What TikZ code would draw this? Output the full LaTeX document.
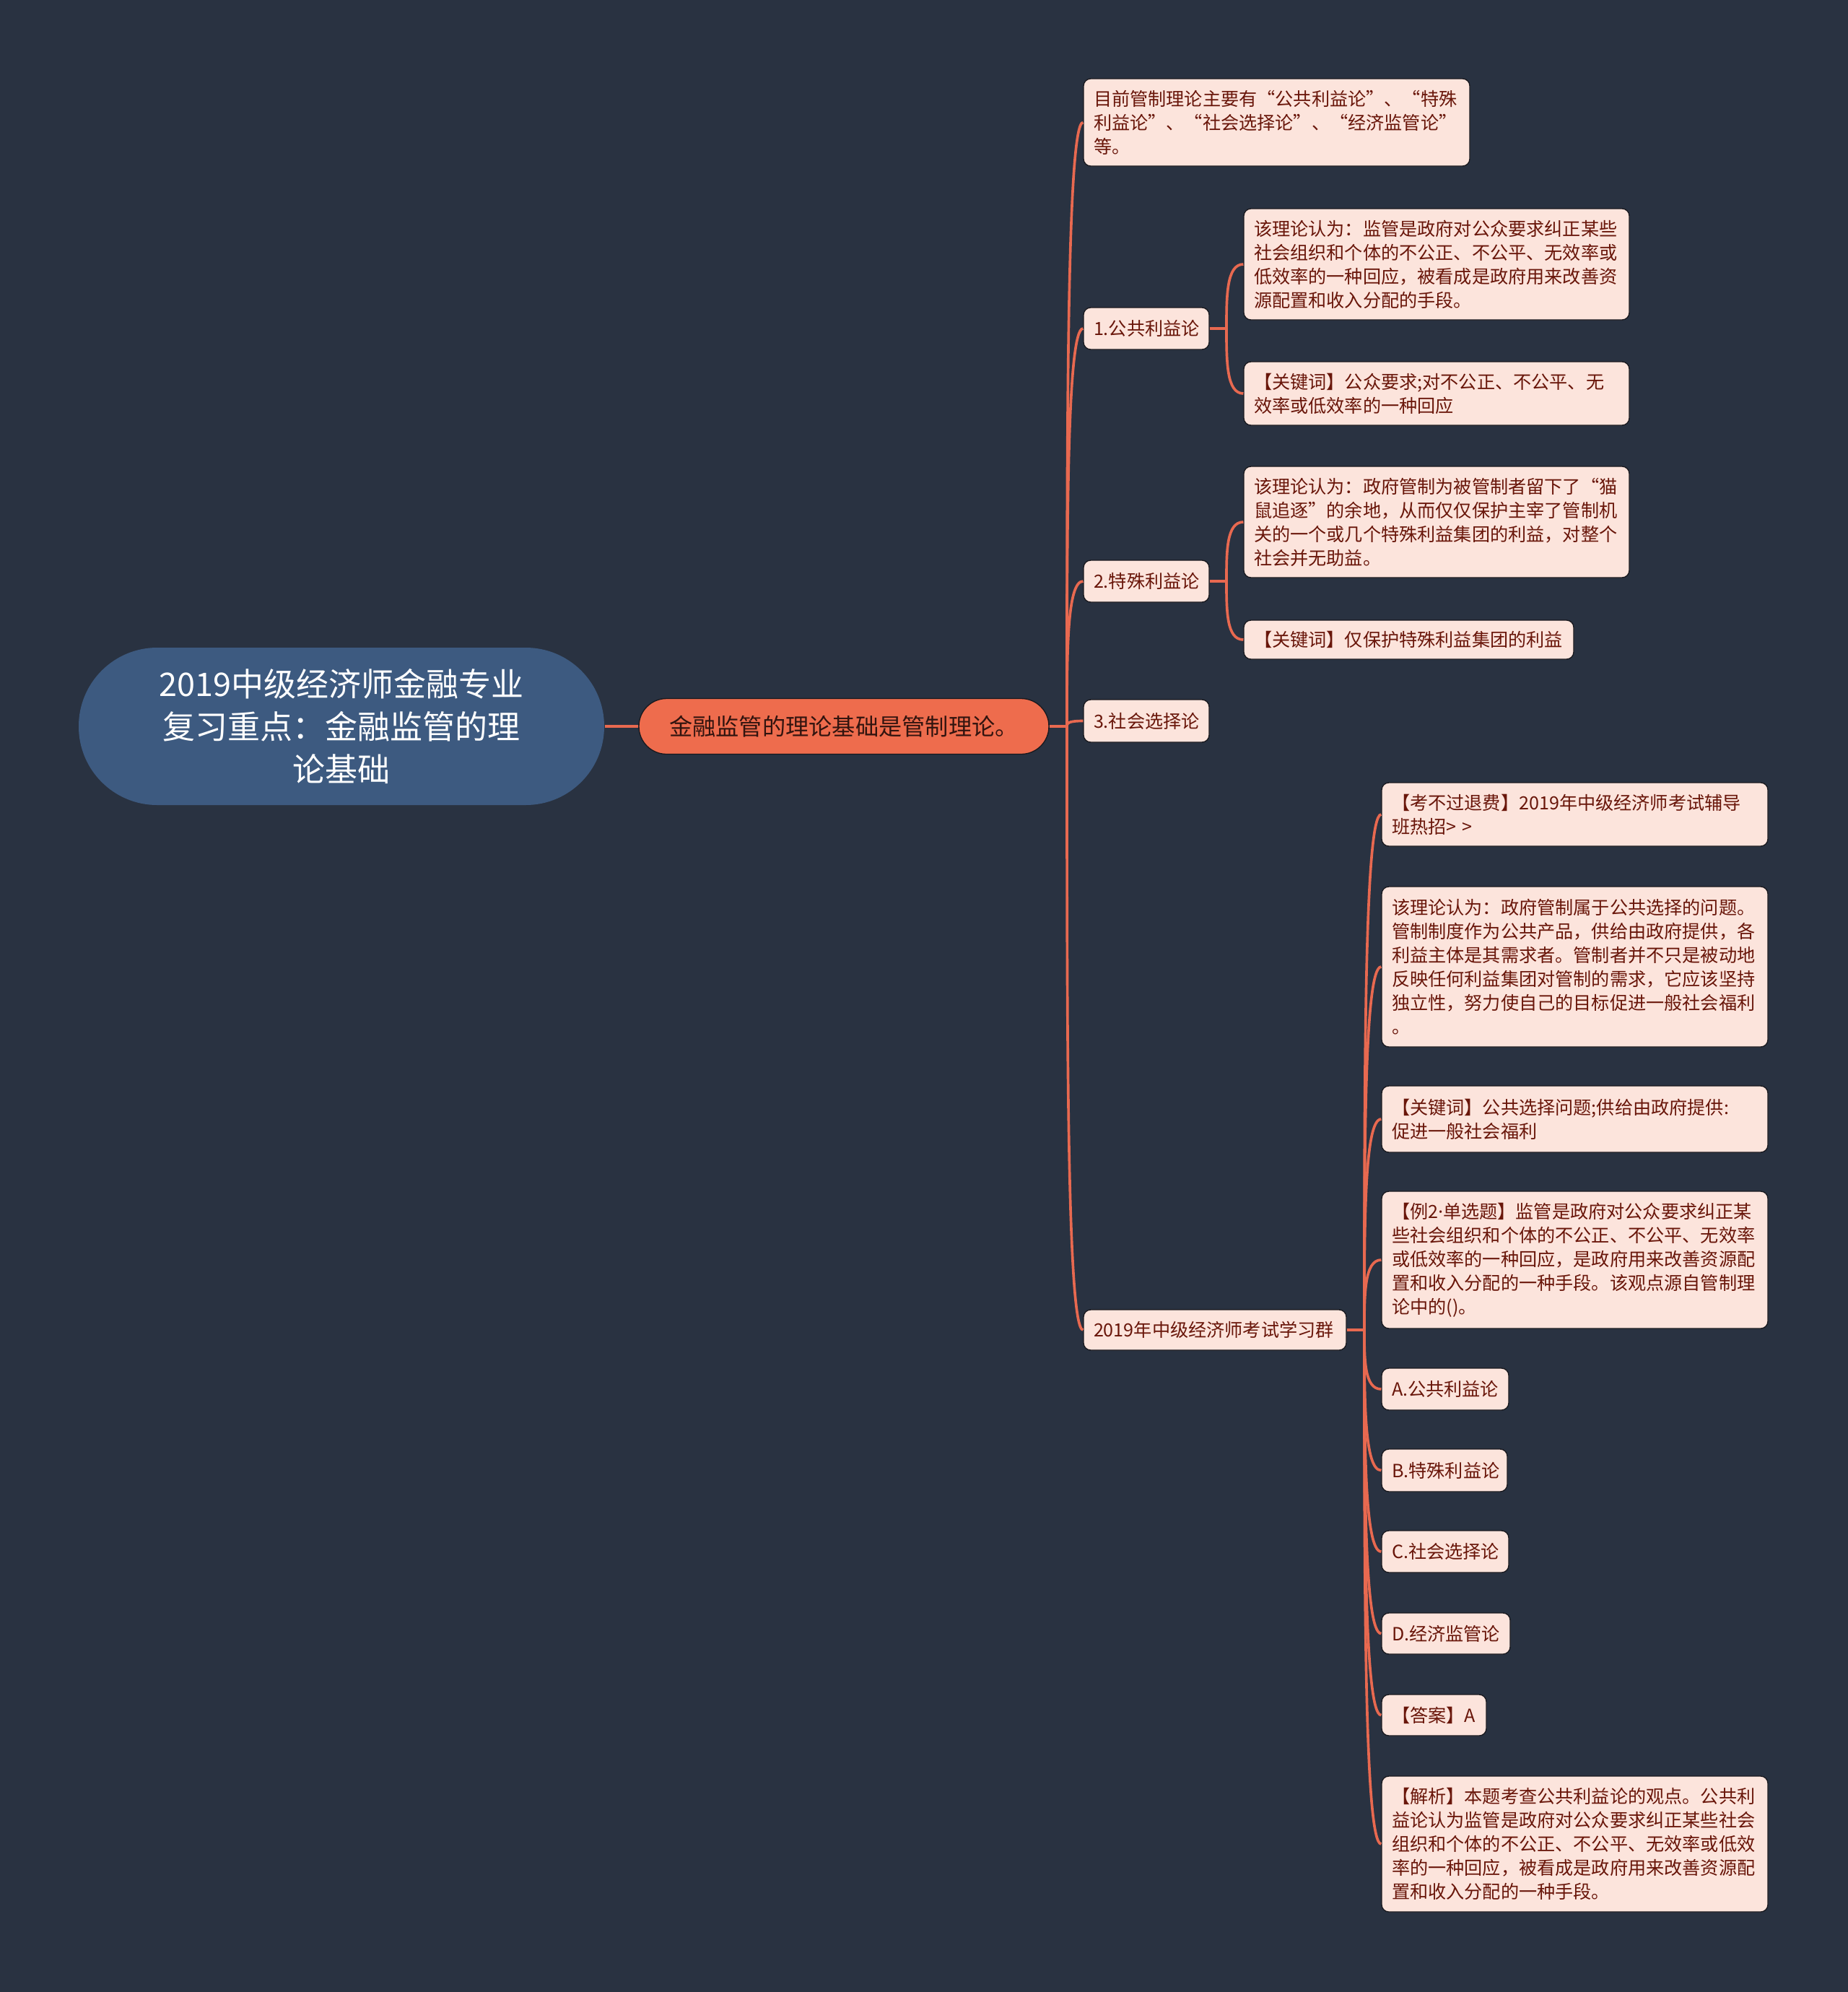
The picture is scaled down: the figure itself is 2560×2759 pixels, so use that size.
\documentclass[tikz,border=0pt]{standalone}
\usepackage{fontspec}
\setmainfont{Noto Sans CJK SC}
\newfontfamily\latinf{Noto Sans}
\usetikzlibrary{calc}
\definecolor{bg}{RGB}{41,50,65}
\definecolor{rootc}{RGB}{61,90,128}
\definecolor{orn}{RGB}{238,108,77}
\definecolor{conn}{RGB}{232,105,80}
\definecolor{leaff}{RGB}{252,228,220}
\definecolor{leaft}{RGB}{105,22,10}
\definecolor{edgec}{RGB}{25,25,30}
\definecolor{midt}{RGB}{50,20,15}
\tikzset{
  leaf/.style={draw=edgec, line width=0.4pt, fill=leaff, rounded corners=3pt,
    text=leaft, align=left, inner xsep=4.2pt, inner ysep=0pt,
    font=\fontsize{7.55pt}{9.9pt}\selectfont},
  cn/.style={draw=conn, line width=1.1pt},
}
\newcommand\mmbox[6]{%
  \pgfmathsetmacro\mmw{(#4-#2)*0.3}%
  \pgfmathsetmacro\mmh{(#5-#3)*0.3}%
  \pgfmathsetmacro\mmtw{(#4-#2-28)*0.3}%
  \node[leaf, minimum width=\mmw pt, minimum height=\mmh pt, text width=\mmtw pt]
    (#1) at ({(#2+#4)/2},{(#3+#5)/2}) {#6};}
\newcommand\mmlink[2]{%
  \draw[cn] (#1) .. controls ($(#1)!0.5!(#1|-#2.west)$) and (#1|-#2.west) .. (#2.west);}
\begin{document}
\begin{tikzpicture}[x=0.3pt,y=-0.3pt]
\fill[bg] (0,0) rectangle (2560,2759);
\useasboundingbox (0,0) rectangle (2560,2759);

% root and main topic
\node[fill=rootc, rounded corners=32.6pt, minimum width=218.4pt, minimum height=65.4pt,
  inner sep=0pt, text=white, align=center, font=\fontsize{13.5pt}{17.7pt}\selectfont]
  (root) at (473,1006) {2019中级经济师金融专业\\复习重点：金融监管的理\\论基础};
\node[draw=edgec, line width=0.4pt, fill=orn, rounded corners=11.5pt, minimum width=170.4pt,
  minimum height=23.1pt, inner sep=0pt, text=midt, font=\fontsize{9.67pt}{11pt}\selectfont]
  (main) at (1169,1006) {金融监管的理论基础是管制理论。};

% level 2
\mmbox{n0}{1501}{109}{2036}{230}{目前管制理论主要有“公共利益论”、“特殊\\利益论”、“社会选择论”、“经济监管论”\\等。}
\mmbox{n1}{1501}{426}{1675}{484}{1.公共利益论}
\mmbox{n2}{1501}{776}{1675}{834}{2.特殊利益论}
\mmbox{n3}{1501}{969}{1675}{1028}{3.社会选择论}
\mmbox{n4}{1501}{1814}{1865}{1870}{2019年中级经济师考试学习群}

% level 3
\mmbox{n1a}{1723}{289}{2257}{443}{该理论认为：监管是政府对公众要求纠正某些\\社会组织和个体的不公正、不公平、无效率或\\低效率的一种回应，被看成是政府用来改善资\\源配置和收入分配的手段。}
\mmbox{n1b}{1723}{501}{2257}{589}{【关键词】公众要求;对不公正、不公平、无\\效率或低效率的一种回应}
\mmbox{n2a}{1723}{646}{2257}{800}{该理论认为：政府管制为被管制者留下了“猫\\鼠追逐”的余地，从而仅仅保护主宰了管制机\\关的一个或几个特殊利益集团的利益，对整个\\社会并无助益。}
\mmbox{n2b}{1723}{859}{2180}{913}{【关键词】仅保护特殊利益集团的利益}

\mmbox{n4a}{1914}{1084}{2449}{1172}{【考不过退费】2019年中级经济师考试辅导\\班热招> >}
\mmbox{n4b}{1914}{1228}{2449}{1450}{该理论认为：政府管制属于公共选择的问题。\\管制制度作为公共产品，供给由政府提供，各\\利益主体是其需求者。管制者并不只是被动地\\反映任何利益集团对管制的需求，它应该坚持\\独立性，努力使自己的目标促进一般社会福利\\。}
\mmbox{n4c}{1914}{1504}{2449}{1596}{【关键词】公共选择问题;供给由政府提供:\\促进一般社会福利}
\mmbox{n4d}{1914}{1650}{2449}{1840}{【例2{\latinf ·}单选题】监管是政府对公众要求纠正某\\些社会组织和个体的不公正、不公平、无效率\\或低效率的一种回应，是政府用来改善资源配\\置和收入分配的一种手段。该观点源自管制理\\论中的()。}
\mmbox{n4e}{1914}{1895}{2090}{1953}{A.公共利益论}
\mmbox{n4f}{1914}{2007}{2088}{2066}{B.特殊利益论}
\mmbox{n4g}{1914}{2120}{2090}{2178}{C.社会选择论}
\mmbox{n4h}{1914}{2234}{2092}{2291}{D.经济监管论}
\mmbox{n4i}{1914}{2347}{2059}{2404}{【答案】A}
\mmbox{n4j}{1914}{2460}{2449}{2648}{【解析】本题考查公共利益论的观点。公共利\\益论认为监管是政府对公众要求纠正某些社会\\组织和个体的不公正、不公平、无效率或低效\\率的一种回应，被看成是政府用来改善资源配\\置和收入分配的一种手段。}

% connectors
\draw[cn] (root.east) -- (main.west);
\coordinate (t0) at (1478,1006);
\draw[cn] (main.east) -- (t0);
\mmlink{t0}{n0}
\mmlink{t0}{n1}
\mmlink{t0}{n2}
\mmlink{t0}{n3}
\mmlink{t0}{n4}

\coordinate (t1) at (1699,455);
\draw[cn] (n1.east) -- (t1);
\mmlink{t1}{n1a}
\mmlink{t1}{n1b}

\coordinate (t2) at (1699,805);
\draw[cn] (n2.east) -- (t2);
\mmlink{t2}{n2a}
\mmlink{t2}{n2b}

\coordinate (t4) at (1890,1842);
\draw[cn] (n4.east) -- (t4);
\foreach \c in {n4a,n4b,n4c,n4d,n4e,n4f,n4g,n4h,n4i,n4j}{\mmlink{t4}{\c}}
\end{tikzpicture}
\end{document}
